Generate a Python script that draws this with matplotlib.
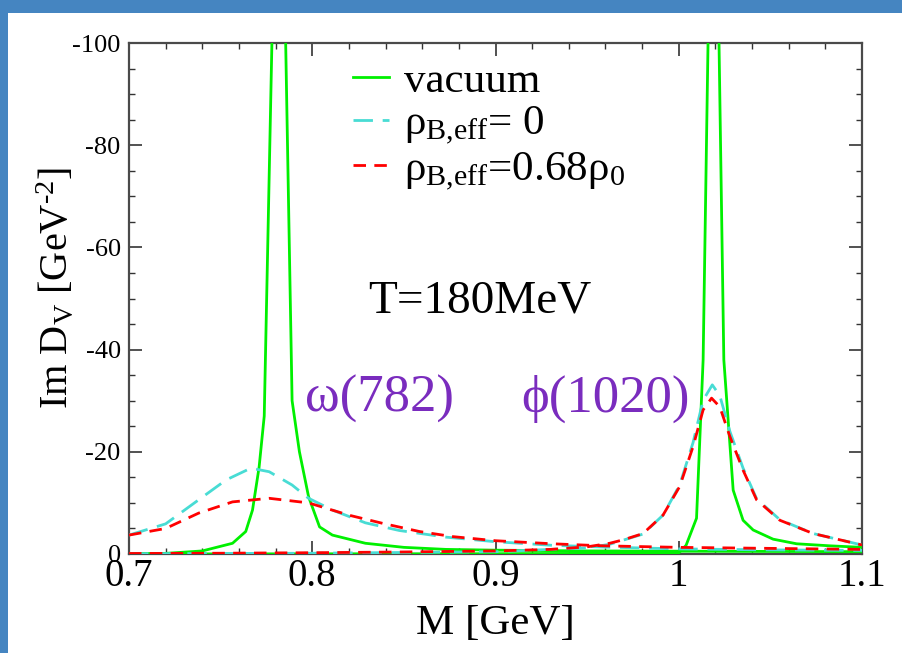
import matplotlib
matplotlib.use("Agg")
import matplotlib.pyplot as plt
from matplotlib.patches import Rectangle
from matplotlib.ticker import MultipleLocator, FuncFormatter

plt.rcParams['font.family'] = ['Liberation Serif', 'DejaVu Serif']
plt.rcParams['mathtext.fontset'] = 'custom'
plt.rcParams['mathtext.rm'] = 'Liberation Serif'
plt.rcParams['mathtext.it'] = 'Liberation Serif:italic'
plt.rcParams['mathtext.default'] = 'regular'
plt.rcParams['axes.unicode_minus'] = False

# ---------------- data (Im D_V, GeV^-2) ----------------
vac_omega_x = [0.700, 0.720, 0.740, 0.7565, 0.7637, 0.7674, 0.771, 0.7738, 0.782,
               0.789, 0.793, 0.798, 0.804, 0.811, 0.829, 0.850, 0.873, 0.900,
               0.950, 1.000, 1.050, 1.100]
vac_omega_y = [-0.05, -0.12, -0.6, -2.1, -4.4, -8.6, -17, -27, -170,
               -30, -20, -11.2, -5.3, -3.7, -2.1, -1.3, -0.9, -0.75,
               -0.6, -0.55, -0.5, -0.45]

vac_phi_x = [0.700, 0.900, 1.000, 1.004, 1.0097, 1.0133, 1.019, 1.0246, 1.0297,
             1.0351, 1.0406, 1.0515, 1.0643, 1.0825, 1.100]
vac_phi_y = [-0.0, -0.05, -0.2, -1.7, -7.0, -38, -170, -38, -12.5,
             -6.6, -4.7, -2.9, -2.0, -1.6, -1.3]

rho0_omega_x = [0.700, 0.720, 0.738, 0.753, 0.7665, 0.7765, 0.789, 0.798, 0.811,
                0.829, 0.8475, 0.873, 0.900, 0.931, 0.960, 1.000, 1.050, 1.100]
rho0_omega_y = [-3.7, -5.9, -10.6, -14.5, -16.8, -16.1, -13.5, -10.9, -8.6,
                -6.1, -4.6, -3.3, -2.4, -1.7, -1.35, -1.0, -0.8, -0.7]

rho0_phi_x = [0.700, 0.800, 0.900, 0.950, 0.9623, 0.9805, 0.9914, 1.0005, 1.0078,
              1.0133, 1.0183, 1.0224, 1.0279, 1.0351, 1.0425, 1.0552, 1.0734, 1.100]
rho0_phi_y = [-0.05, -0.15, -0.45, -1.2, -1.9, -3.9, -7.6, -13.5, -21.8,
              -30.1, -33.1, -31.0, -24.0, -16.8, -10.8, -6.7, -4.0, -1.76]

rho68_omega_x = [0.700, 0.720, 0.738, 0.7565, 0.7765, 0.798, 0.820, 0.8384, 0.8585,
                 0.8767, 0.900, 0.931, 0.9587, 1.000, 1.050, 1.100]
rho68_omega_y = [-3.7, -5.0, -8.0, -10.2, -10.9, -10.0, -7.6, -6.0, -4.4,
                 -3.4, -2.6, -2.0, -1.6, -1.3, -1.1, -0.9]

rho68_phi_x = [0.700, 0.750, 0.800, 0.850, 0.900, 0.930, 0.950, 0.9623, 0.970,
               0.9805, 0.9914, 1.0005, 1.0078, 1.0133, 1.0179, 1.0224, 1.0279,
               1.0351, 1.0425, 1.0552, 1.0734, 1.100]
rho68_phi_y = [-0.1, -0.15, -0.25, -0.4, -0.6, -0.9, -1.4, -2.1, -2.8,
               -4.0, -7.6, -13.2, -21.0, -28.2, -30.5, -28.8, -23.0,
               -16.4, -10.6, -6.6, -4.0, -1.76]

legend_labels = ['vacuum', 'ρ$_{B{,}eff}$= 0', 'ρ$_{B{,}eff}$=0.68ρ$_0$']
x_ticks = [0.7, 0.8, 0.9, 1.0, 1.1]
x_ticklabels = ['0.7', '0.8', '0.9', '1', '1.1']

# ---------------- figure ----------------
W, H = 903, 653
fig = plt.figure(figsize=(W / 100, H / 100), dpi=100, facecolor='#4585C1')
fig.patches.append(Rectangle((8 / W, 0), 1 - 8 / W, (H - 13) / H,
                             transform=fig.transFigure, facecolor='white',
                             edgecolor='none', zorder=-10))

L, R, T, B = 129, 862, 43, 554
ax = fig.add_axes([L / W, (H - B) / H, (R - L) / W, (B - T) / H])
ax.set_zorder(5)
ax.set_facecolor('white')

green = '#00F000'
cyan = '#48DCD4'
red = '#FF0000'
lw = 2.0

l_vac, = ax.plot(vac_omega_x, vac_omega_y, color=green, lw=lw, zorder=3)
ax.plot(vac_phi_x, vac_phi_y, color=green, lw=lw, zorder=3)
l_r0, = ax.plot(rho0_omega_x, rho0_omega_y, color=cyan, lw=lw, dashes=(7, 3.5), zorder=4)
ax.plot(rho0_phi_x, rho0_phi_y, color=cyan, lw=lw, dashes=(7, 3.5), zorder=4)
l_r68, = ax.plot(rho68_omega_x, rho68_omega_y, color=red, lw=lw, dashes=(4.5, 3), zorder=5)
ax.plot(rho68_phi_x, rho68_phi_y, color=red, lw=lw, dashes=(4.5, 3), zorder=5)

ax.set_xlim(0.7, 1.1)
ax.set_ylim(0, -100)

ax.xaxis.set_major_locator(MultipleLocator(0.1))
ax.xaxis.set_minor_locator(MultipleLocator(0.02))
ax.set_xticks(x_ticks)
ax.set_xticklabels(x_ticklabels)
ax.yaxis.set_major_locator(MultipleLocator(20))
ax.yaxis.set_minor_locator(MultipleLocator(5))
ax.yaxis.set_major_formatter(FuncFormatter(lambda v, p: '%d' % v))

ax.tick_params(which='both', direction='in', top=True, right=True, color='#333333')
ax.tick_params(which='major', length=9.5, width=1.2)
ax.tick_params(which='minor', length=4.5, width=1.0)
ax.tick_params(axis='x', labelsize=28, pad=3)
ax.tick_params(axis='y', labelsize=19, pad=6)
for s in ax.spines.values():
    s.set_color('#4a4a4a')
    s.set_linewidth(1.6)

ax.set_xlabel('M [GeV]', fontsize=31, labelpad=7)
ax.set_ylabel(r'Im D$_V$ [GeV$^{\text{-}2}$]', fontsize=29)
ax.yaxis.set_label_coords(-0.072, 0.52)

leg = ax.legend([l_vac, l_r0, l_r68], legend_labels, loc='upper left',
                bbox_to_anchor=(0.305, 0.963), frameon=False, fontsize=31,
                handlelength=0.85, handletextpad=0.35, labelspacing=0.08,
                borderpad=0, borderaxespad=0)

ax.text(0.326, 0.472, 'T=180MeV', transform=ax.transAxes, fontsize=34,
        va='baseline', ha='left')
purple = '#7A2CBE'
ax.text(0.240, 0.2785, 'ω(782)', transform=ax.transAxes, fontsize=38,
        va='baseline', ha='left', color=purple)
ax.text(0.5357, 0.2785, 'ϕ(1020)', transform=ax.transAxes, fontsize=38,
        va='baseline', ha='left', color=purple)

fig.savefig('out.png', dpi=100, facecolor=fig.get_facecolor())
